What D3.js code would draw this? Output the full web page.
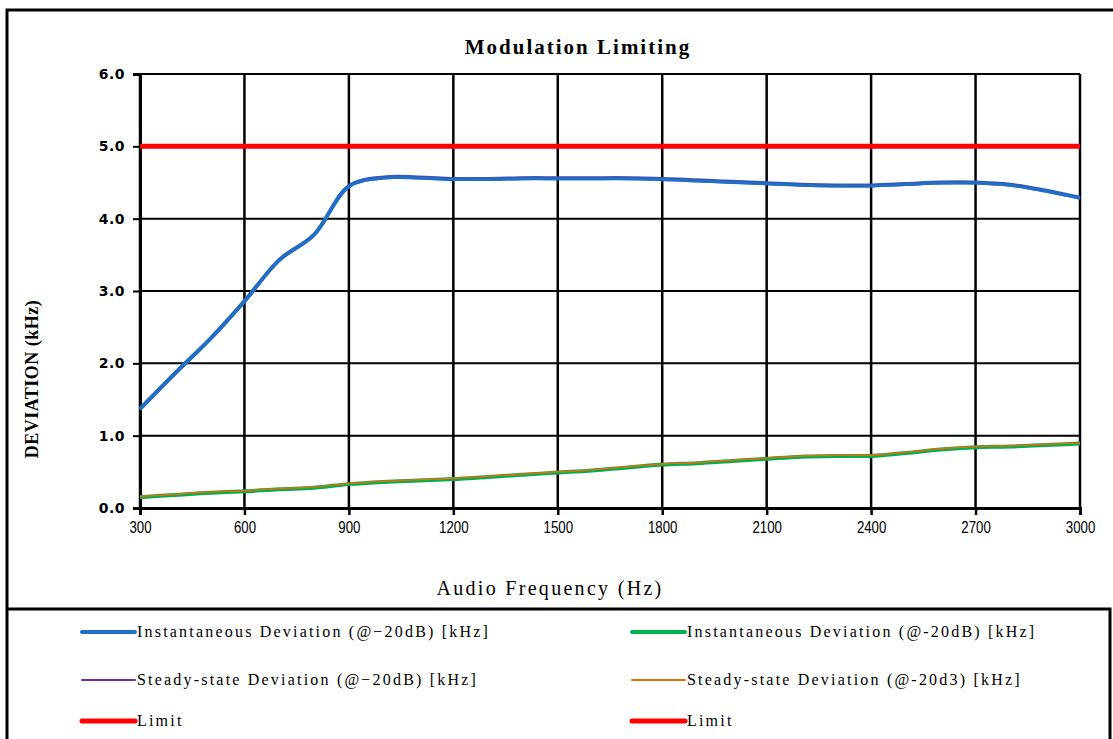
<!DOCTYPE html>
<html>
<head>
<meta charset="utf-8">
<script src="https://cdn.jsdelivr.net/npm/d3@7"></script>
<style>
  body { margin: 0; background: #ffffff; }
  svg { display: block; }
</style>
</head>
<body>
<div id="chart"></div>
<script>
// Modulation limiting chart: deviation vs audio frequency

// frequencies (Hz), one reading every 100 Hz
const freqs = [300, 400, 500, 600, 700, 800, 900, 1000, 1100, 1200, 1300, 1400, 1500, 1600,
  1700, 1800, 1900, 2000, 2100, 2200, 2300, 2400, 2500, 2600, 2700, 2800, 2900, 3000];

// Instantaneous deviation @ -20dB (kHz), upper trace
const instHigh = [1.37, 1.86, 2.33, 2.86, 3.43, 3.78, 4.45, 4.57, 4.57, 4.55, 4.55, 4.56, 4.56, 4.56,
  4.56, 4.55, 4.53, 4.51, 4.49, 4.47, 4.46, 4.46, 4.48, 4.50, 4.50, 4.47, 4.39, 4.29];
// Steady-state deviation @ -20dB (kHz), upper trace
const steadyHigh = [1.38, 1.87, 2.34, 2.87, 3.44, 3.79, 4.46, 4.58, 4.58, 4.56, 4.56, 4.57, 4.57, 4.57,
  4.57, 4.56, 4.54, 4.52, 4.50, 4.48, 4.47, 4.47, 4.49, 4.51, 4.51, 4.48, 4.40, 4.30];
// Instantaneous deviation @ -20dB (kHz), lower trace
const instLow = [0.15, 0.18, 0.21, 0.23, 0.26, 0.28, 0.33, 0.36, 0.38, 0.40, 0.43, 0.46, 0.49, 0.52,
  0.56, 0.60, 0.62, 0.65, 0.68, 0.71, 0.72, 0.72, 0.76, 0.81, 0.84, 0.85, 0.87, 0.89];
// Steady-state deviation @ -20dB (kHz), lower trace
const steadyLow = [0.16, 0.19, 0.22, 0.24, 0.27, 0.29, 0.34, 0.37, 0.39, 0.41, 0.44, 0.47, 0.50, 0.53,
  0.57, 0.61, 0.63, 0.66, 0.69, 0.72, 0.73, 0.73, 0.77, 0.82, 0.85, 0.86, 0.88, 0.90];
// limit (kHz)
const limitValue = 5.0;

const xTicks = [300, 600, 900, 1200, 1500, 1800, 2100, 2400, 2700, 3000];
const yTicks = [0, 1, 2, 3, 4, 5, 6];

const legendLabels = [
  'Instantaneous Deviation (@\u221220dB) [kHz]',
  'Instantaneous Deviation (@-20dB) [kHz]',
  'Steady-state Deviation (@\u221220dB) [kHz]',
  'Steady-state Deviation (@-20d3) [kHz]',
  'Limit',
  'Limit'
];

const W = 1113, H = 739;
const plot = { left: 140, right: 1080, top: 74, bottom: 508 };

const svg = d3.select('#chart').append('svg')
  .attr('width', W)
  .attr('height', H);

// outer frames
svg.append('path')
  .attr('d', `M7,${H + 5}V10H${W + 5}`)
  .attr('fill', 'none')
  .attr('stroke', '#000')
  .attr('stroke-width', 3);
svg.append('path')
  .attr('d', `M7,609H1110V${H + 5}`)
  .attr('fill', 'none')
  .attr('stroke', '#000')
  .attr('stroke-width', 3);

const x = d3.scaleLinear().domain([300, 3000]).range([plot.left, plot.right]);
const y = d3.scaleLinear().domain([0, 6]).range([plot.bottom, plot.top]);

// grid lines
svg.append('g')
  .selectAll('line')
  .data(xTicks)
  .join('line')
  .attr('x1', d => x(d)).attr('x2', d => x(d))
  .attr('y1', plot.top).attr('y2', plot.bottom)
  .attr('stroke', '#000')
  .attr('stroke-width', 2.5);

svg.append('g')
  .selectAll('line')
  .data(yTicks)
  .join('line')
  .attr('x1', plot.left).attr('x2', plot.right)
  .attr('y1', d => y(d)).attr('y2', d => y(d))
  .attr('stroke', '#000')
  .attr('stroke-width', 2);

// axes
const yAxis = svg.append('g')
  .attr('transform', `translate(${plot.left},0)`)
  .call(d3.axisLeft(y).tickValues(yTicks).tickFormat(d3.format('.1f')).tickSize(7).tickPadding(8));
yAxis.select('.domain').attr('stroke-width', 3);
yAxis.selectAll('.tick line').attr('stroke-width', 2);
yAxis.selectAll('text')
  .attr('font-family', 'DejaVu Sans, sans-serif')
  .attr('font-size', 14)
  .attr('font-weight', 'bold')
  .attr('letter-spacing', 0.5)
  .attr('fill', '#000');

const xAxis = svg.append('g')
  .attr('transform', `translate(0,${plot.bottom})`)
  .call(d3.axisBottom(x).tickValues(xTicks).tickFormat(d3.format('d')).tickSize(7).tickPadding(6));
xAxis.select('.domain').attr('stroke-width', 3);
xAxis.selectAll('.tick line').attr('stroke-width', 2.5);
xAxis.selectAll('text')
  .attr('font-family', 'Liberation Sans, Arial, sans-serif')
  .attr('font-size', 17)
  .attr('transform', 'scale(0.78,1)')
  .attr('fill', '#000');

// series
const curve = d3.curveCatmullRom.alpha(0.5);
const line = d3.line()
  .x((d, i) => x(freqs[i]))
  .y(d => y(d))
  .curve(curve);

const series = [
  { values: instLow, color: '#00b050', width: 4 },
  { values: steadyLow, color: '#e46c0a', width: 1.5 },
  { values: instHigh, color: '#1f6fc6', width: 4 },
  { values: steadyHigh, color: '#7030a0', width: 1.2 }
];

series.forEach(s => {
  svg.append('path')
    .datum(s.values)
    .attr('d', line)
    .attr('fill', 'none')
    .attr('stroke', s.color)
    .attr('stroke-width', s.width)
    .attr('stroke-linejoin', 'round');
});
// redraw blue over purple so only a thin edge shows
svg.append('path')
  .datum(instHigh)
  .attr('d', line)
  .attr('fill', 'none')
  .attr('stroke', '#1f6fc6')
  .attr('stroke-width', 3)
  .attr('transform', 'translate(0,0.6)');

svg.append('line')
  .attr('x1', x(300)).attr('x2', x(3000))
  .attr('y1', y(limitValue)).attr('y2', y(limitValue))
  .attr('stroke', '#ff0000')
  .attr('stroke-width', 5);

// titles
svg.append('text')
  .attr('x', 578).attr('y', 54)
  .attr('text-anchor', 'middle')
  .attr('font-family', 'Liberation Serif, serif')
  .attr('font-weight', 'bold')
  .attr('font-size', 21)
  .attr('letter-spacing', 2)
  .text('Modulation Limiting');

svg.append('text')
  .attr('transform', 'translate(38,379) rotate(-90)')
  .attr('text-anchor', 'middle')
  .attr('font-family', 'Liberation Serif, serif')
  .attr('font-weight', 'bold')
  .attr('font-size', 18)
  .attr('letter-spacing', 0.5)
  .text('DEVIATION (kHz)');

svg.append('text')
  .attr('x', 550).attr('y', 595)
  .attr('text-anchor', 'middle')
  .attr('font-family', 'Liberation Serif, serif')
  .attr('font-size', 20)
  .attr('letter-spacing', 2.3)
  .text('Audio Frequency (Hz)');

// legend
const legendColors = ['#1f6fc6', '#00b050', '#7030a0', '#e46c0a', '#ff0000', '#ff0000'];
const legendWidths = [4, 4, 2, 2, 5, 5];
const legendCols = [82, 632];
const legendRows = [632, 680, 721];

legendLabels.forEach((label, i) => {
  const lx = legendCols[i % 2];
  const ly = legendRows[Math.floor(i / 2)];
  svg.append('line')
    .attr('x1', lx).attr('x2', lx + 53)
    .attr('y1', ly).attr('y2', ly)
    .attr('stroke', legendColors[i])
    .attr('stroke-width', legendWidths[i])
    .attr('stroke-linecap', 'round');
  svg.append('text')
    .attr('x', lx + 55).attr('y', ly + 5)
    .attr('font-family', 'Liberation Serif, serif')
    .attr('font-size', 16)
    .attr('letter-spacing', 2.2)
    .text(label);
});
</script>
</body>
</html>
